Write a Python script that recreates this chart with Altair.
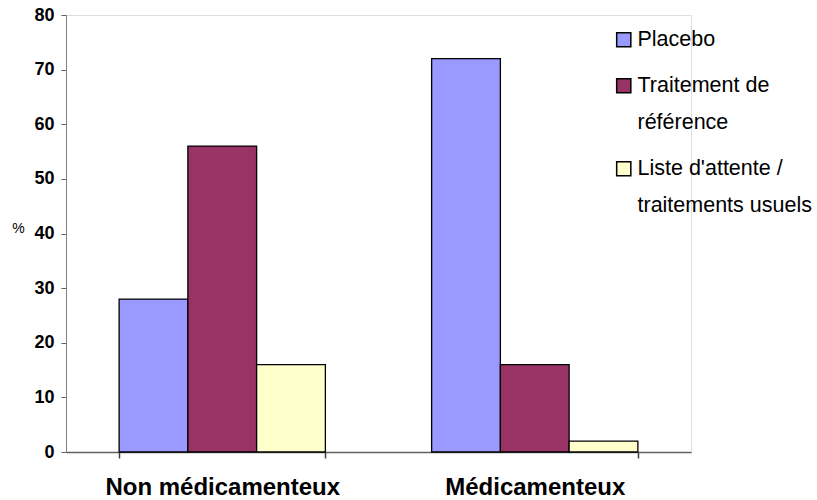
import json
import altair as alt
import pandas as pd

# Categories and series
groups = ["Non médicamenteux", "Médicamenteux"]
series = ["Placebo", "Traitement de référence", "Liste d'attente / traitements usuels"]
placebo = [28, 72]
reference = [56, 16]
waiting_list = [16, 2]
colors = ["#9999FF", "#993366", "#FFFFCC"]
legend_lines = [["Placebo"], ["Traitement de", "référence"], ["Liste d'attente /", "traitements usuels"]]

rows = []
for i, g in enumerate(groups):
    for s, vals in zip(series, [placebo, reference, waiting_list]):
        rows.append({"group": g, "series": s, "value": vals[i]})
df = pd.DataFrame(rows)

# legend labels broken over two lines
label_expr = " : ".join(
    f"datum.label == {json.dumps(s)} ? {json.dumps(lines)}" for s, lines in zip(series, legend_lines)
) + " : datum.label"

FONT = "Liberation Sans, Arial, sans-serif"

chart = alt.Chart(df).mark_bar(stroke="black", strokeWidth=1.3).encode(
    x=alt.X(
        "group:N",
        sort=groups,
        scale=alt.Scale(paddingInner=0.34, paddingOuter=0.17),
        axis=alt.Axis(
            title=None, labelAngle=0, tickBand="extent", tickExtra=True,
            labelFont=FONT, labelFontSize=24, labelFontWeight="bold", labelColor="black",
            labelPadding=17, labelLimit=500, tickSize=6, tickColor="#404040",
            tickWidth=1.5, domainColor="#606060", domainWidth=1.5,
        ),
    ),
    xOffset=alt.XOffset("series:N", sort=series, scale=alt.Scale(paddingInner=0.0)),
    y=alt.Y(
        "value:Q",
        scale=alt.Scale(domain=[0, 80]),
        axis=alt.Axis(
            values=list(range(0, 81, 10)), grid=False, title="%", titleAngle=0,
            titleFont=FONT, titleFontSize=14, titleFontWeight="normal", titleColor="black",
            titleX=-48, titleY=213, titleAlign="center", titleBaseline="middle",
            labelFont=FONT, labelFontSize=18, labelFontWeight="bold", labelColor="black",
            labelPadding=7, tickSize=5, tickColor="#606060", domainColor="#808080",
        ),
    ),
    color=alt.Color(
        "series:N",
        sort=series,
        scale=alt.Scale(domain=series, range=colors),
        legend=alt.Legend(
            title=None, orient="none", legendX=547, legendY=14,
            symbolType="square", symbolSize=200, symbolStrokeColor="black",
            symbolStrokeWidth=1.5, symbolOpacity=1,
            labelFont=FONT, labelFontSize=21.5, labelColor="black", labelLimit=300,
            labelExpr=label_expr, rowPadding=23, labelOffset=3,
        ),
    ),
).properties(
    width=625, height=437, autosize="none",
    padding={"left": 66, "top": 15, "right": 126, "bottom": 48},
).configure_view(stroke=None).configure(
    style={"guide-label": {"lineHeight": 37}}
)

chart.save("out.html", embed_options={"renderer": "svg", "actions": False})
